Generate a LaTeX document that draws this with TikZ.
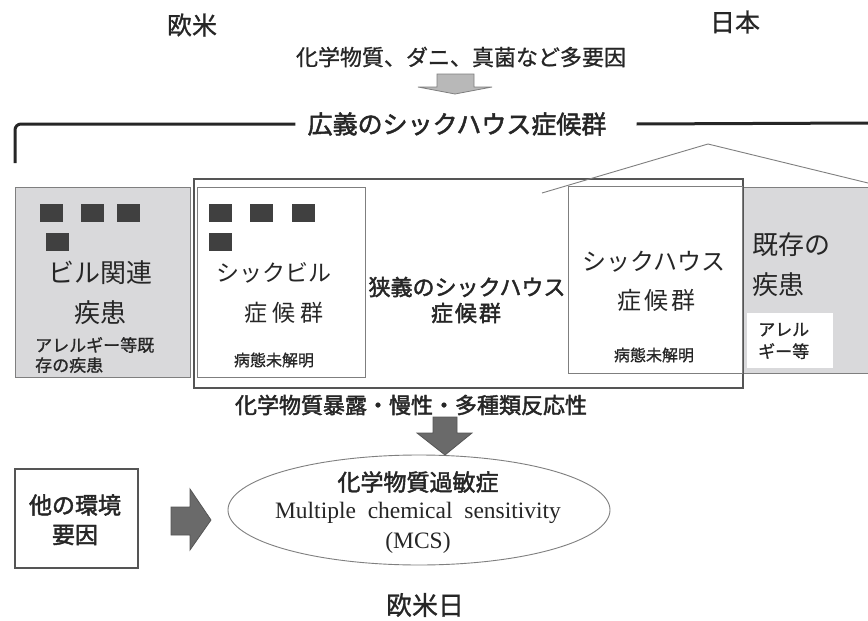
\documentclass[tikz,border=0pt]{standalone}
\usepackage{fontspec}
\setmainfont{Liberation Serif}
\newfontfamily\jp{Noto Sans CJK JP}
\newfontfamily\jpm{Noto Sans CJK JP}[FakeBold=0.9]
\newfontfamily\jps{Noto Sans CJK JP}[FakeBold=2]
\usetikzlibrary{shapes.geometric}
\definecolor{txt}{HTML}{262626}
\definecolor{boxgray}{HTML}{D9D9DB}
\definecolor{edgegray}{HTML}{7F7F7F}
\definecolor{outergray}{HTML}{555555}
\definecolor{sqgray}{HTML}{404040}
\definecolor{arrowgray}{HTML}{6A6A6A}
\definecolor{lightarrow}{HTML}{B8B8B8}
\newcommand\fsz[1]{\fontsize{#1}{#1}\selectfont}
\tikzset{
  lbl/.style={inner sep=0pt, text=txt, font=\jp\fsz{#1}},
  lblm/.style={inner sep=0pt, text=txt, font=\jpm\fsz{#1}},
  lbls/.style={inner sep=0pt, text=txt, font=\jps\fsz{#1}},
  lblb/.style={inner sep=0pt, text=txt, font=\jp\bfseries\fsz{#1}},
  graybox/.style={draw=edgegray, fill=boxgray, line width=1.2pt, anchor=north west, inner sep=0pt},
  whitebox/.style={draw=edgegray, fill=white, line width=1.2pt, anchor=north west, inner sep=0pt},
  sq/.style={fill=sqgray, minimum width=23pt, minimum height=18pt, anchor=north west, inner sep=0pt},
  blockarrow/.style={fill=arrowgray, draw=outergray, line width=0.8pt},
  bracketline/.style={draw=txt, line width=3pt},
}
\begin{document}
\begin{tikzpicture}[x=1pt,y=-1pt]
\useasboundingbox[fill=white] (0,0) rectangle (868,621);

% boxes
\node[graybox, minimum width=175pt, minimum height=190pt] (bldg) at (15,187) {};
\node[graybox, minimum width=130pt, minimum height=186pt] (exist) at (742,187) {};
\node[draw=outergray, line width=1.6pt, anchor=north west, inner sep=0pt, minimum width=549pt, minimum height=209pt] (narrow) at (193,178) {};
\node[whitebox, minimum width=168pt, minimum height=190pt] (sbs) at (197,187) {};
\node[whitebox, minimum width=174pt, minimum height=187pt] (shs) at (568,186) {};
\node[fill=white, anchor=north west, inner sep=0pt, minimum width=86pt, minimum height=55pt] (allebox) at (747,313) {};

% roof
\coordinate (r1) at (542,193);
\coordinate (apex) at (708,144);
\coordinate (r2) at (868,183);
\draw[edgegray, line width=0.9pt] (r1) -- (apex) -- (r2);

% squares
\node[sq] (s1) at (40,204) {};
\node[sq] (s2) at (81,204) {};
\node[sq] (s3) at (117,204) {};
\node[sq] (s4) at (46,233) {};
\node[sq] (s5) at (209,204) {};
\node[sq] (s6) at (250,204) {};
\node[sq] (s7) at (292,204) {};
\node[sq] (s8) at (209,233) {};

% top texts
\node[lblm=25] (eu) at (192,25) {欧米};
\node[lblm=25] (jpn) at (735,22) {日本};
\node[lblm=22] (factors) at (461,57) {化学物質、ダニ、真菌など多要因};
\draw[fill=lightarrow, draw=edgegray, line width=0.8pt] (437,74) -- (474,74) -- (474,87) -- (492,87) -- (455,94) -- (418,87) -- (437,87) -- cycle;

\node[lbls=25] (broad) at (457,124) {広義のシックハウス症候群};
\coordinate (bl) at (15,163);
\coordinate (br) at (868,123);
\draw[bracketline, rounded corners=6pt] (bl) |- ([xshift=-12pt]broad.west);
\draw[bracketline] ([xshift=30pt]broad.east) -- (br);

% left box texts
\node[lbl=26] (bl1) at (100,273) {ビル関連};
\node[lbl=26] (bl2) at (100,313) {疾患};
\node[inner sep=0pt, text=txt, anchor=west, align=left, font=\jpm\fontsize{17}{20}\selectfont] (bl3) at (35,355) {アレルギー等既\\存の疾患};

% sick building
\node[lbl=23] (sb1) at (274,273) {シックビル};
\node[lbl=23] (sb2) at (284,313) {症\kern5pt 候\kern5pt 群};
\node[lblm=16] (sb3) at (274,360) {病態未解明};

% narrow
\node[lbls=22] (nr1) at (467,287) {狭義のシックハウス};
\node[lbls=22] (nr2) at (466,313) {症\kern2pt 候\kern2pt 群};

% sick house
\node[lbl=24] (sh1) at (654,262) {シックハウス};
\node[lbl=24] (sh2) at (656,300) {症\kern3pt 候\kern3pt 群};
\node[lblm=16] (sh3) at (654,355) {病態未解明};

% existing
\node[lbl=26, anchor=west] (ex1) at (752,245) {既存の};
\node[lbl=26, anchor=west] (ex2) at (752,285) {疾患};
\node[inner sep=0pt, text=txt, anchor=west, align=left, font=\jpm\fontsize{17}{22}\selectfont] (ex3) at (758,341) {アレル\\ギー等};

% bottom
\node[lbls=22] (expo) at (411,405) {化学物質暴露・慢性・多種類反応性};
\node[ellipse, draw=edgegray, line width=0.9pt, minimum width=382pt, minimum height=110pt, inner sep=0pt] (mcs) at (419,510) {};
\draw[blockarrow] (433,417) -- (457,417) -- (457,433) -- (472,433) -- (445,455) -- (417,433) -- (433,433) -- cycle;
\node[lbls=23] (mcs1) at (418,482) {化学物質過敏症};
\node[inner sep=0pt, text=txt, font=\fsz{23.5}] (mcs2) at (418,513) {Multiple\ \ chemical\ \ sensitivity};
\node[inner sep=0pt, text=txt, font=\fsz{23.5}] (mcs3) at (418,543) {(MCS)};

\node[draw=outergray, line width=1.6pt, anchor=north west, inner sep=0pt, minimum width=123pt, minimum height=99pt] (other) at (14,468) {};
\node[lbls=23] (ot1) at (75,505) {他の環境};
\node[lbls=23] (ot2) at (75,535) {要因};
\draw[blockarrow] (171,507) -- (190,507) -- (190,489) -- (211,520) -- (190,550) -- (190,535) -- (171,535) -- cycle;

\node[lblm=26] (eujp) at (425,605) {欧米日};
\end{tikzpicture}
\end{document}
